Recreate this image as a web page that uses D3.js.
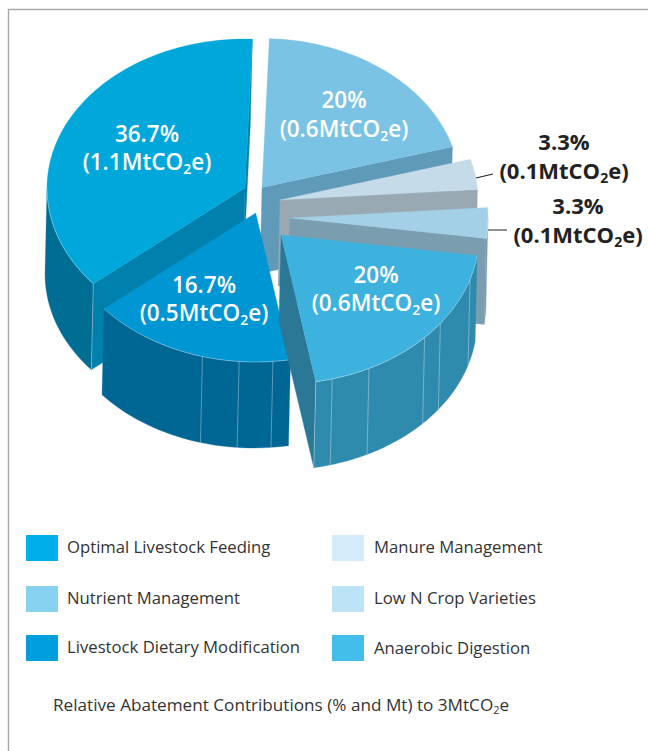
<!DOCTYPE html>
<html><head><meta charset="utf-8">
<script src="https://cdn.jsdelivr.net/npm/d3@7/dist/d3.min.js"></script>
<style>html,body{margin:0;padding:0;background:#fff}svg{display:block}</style>
</head><body><svg id="c" width="648" height="751"></svg>
<script>
// ---------- data ----------
const categories = ["Optimal Livestock Feeding","Nutrient Management","Manure Management","Low N Crop Varieties","Anaerobic Digestion","Livestock Dietary Modification"];
const shares = [36.7,20,3.3,3.3,20,16.7];
const shareLabels = ["36.7%","20%","3.3%","3.3%","20%","16.7%"];
const massLabels = ["(1.1MtCO","(0.6MtCO","(0.1MtCO","(0.1MtCO","(0.6MtCO","(0.5MtCO"];
const legendColors = ["#00aeea","#86d0f0","#d4ebf9","#bde3f7","#43bdea","#009ddf"];
const topColors = ["#00a7db","#7bc3e4","#c5dbe9","#a3d0e6","#3eb2de","#0095d3"];
const wallColors = ["#006d92","#5f9ab8","#98a9b3","#7a9eb0","#2f8bae","#006694"];
const faceColors = ["#0080ac","#5f9ab8","#98a9b3","#7a9eb0","#2a7896","#006694"];
// seams on outer walls, in degrees clockwise from 12 o'clock
const seams = [[],[],[],[],[165,153.6,133.5,126.4,107.3],[195.6,184.8,175]];
// ---------- layout ----------
const rx=198, ry=149, depthX=-2, depthY=86;
const centers=[[245,188],[262,187.5],[280,200],[290,218],[281,235],[255.7,213]];
const drawOrder=[0,1,2,3,5,4];
const labelPos=[[147,142,170],[344,108,137],[564,150,179],[578,214,243],[376,283,311],[204,293,321]];
const labelFill=["#fff","#fff","#222","#222","#fff","#fff"];
const legendPos=[[26,535],[26,586],[332,535],[332,586],[332,635],[26,635]];

const svg=d3.select("#c");
const font='"Open Sans"';
// frame
svg.append("path").attr("d","M648 9.5H8.5V751").attr("fill","none").attr("stroke","#a8a8a8").attr("stroke-width",1.4);

const sx=d3.scaleLinear().domain([-1,1]).range([-rx,rx]);
const sy=d3.scaleLinear().domain([-1,1]).range([-ry,ry]);
const arcs=d3.pie().sort(null).value(d=>d).startAngle(230*Math.PI/180).endAngle(590*Math.PI/180)(shares);
const rad=d=>d*Math.PI/180, deg=r=>r*180/Math.PI;
const line=d3.line();
function pt(i,a,low){const c=centers[i];const r=rad(a);
  return [c[0]+sx(Math.sin(r))+(low?depthX:0), c[1]+sy(-Math.cos(r))+(low?depthY:0)];}
function sweep(a0,a1){const n=Math.max(2,Math.ceil(Math.abs(a1-a0)/2));return d3.range(n+1).map(k=>a0+(a1-a0)*k/n);}
function apex(i,low){const c=centers[i];return [c[0]+(low?depthX:0),c[1]+(low?depthY:0)];}

drawOrder.forEach(i=>{
  let a0=deg(arcs[i].startAngle),a1=deg(arcs[i].endAngle);
  if(a0>=360){a0-=360;a1-=360;}
  const g=svg.append("g");
  const poly=(pts,fill)=>g.append("path").attr("d",line(pts)+"Z").attr("fill",fill).attr("stroke",fill).attr("stroke-width",.3);
  // cut faces
  if(Math.sin(rad(a0))<0) poly([apex(i),pt(i,a0),pt(i,a0,true),apex(i,true)],faceColors[i]);
  if(Math.sin(rad(a1))>0) poly([apex(i),pt(i,a1),pt(i,a1,true),apex(i,true)],faceColors[i]);
  // outer wall
  const w0=Math.max(a0,90),w1=Math.min(a1,270);
  if(w1>w0){
    const s=sweep(w0,w1);
    poly(s.map(a=>pt(i,a)).concat(s.slice().reverse().map(a=>pt(i,a,true))),wallColors[i]);
    seams[i].forEach(a=>g.append("path").attr("d",line([pt(i,a),pt(i,a,true)])).attr("stroke","#fff").attr("stroke-opacity",.38).attr("stroke-width",.9).attr("fill","none"));
    if(i===4||i===0){const e=i===0?w0:w1;g.append("path").attr("d",line([pt(i,e),pt(i,e,true)])).attr("stroke","#fff").attr("stroke-opacity",.4).attr("stroke-width",.9);}
  }
  // top
  const t=sweep(a0,a1).map(a=>pt(i,a));
  poly([apex(i)].concat(t),topColors[i]);
  if(w1>w0){g.append("path").attr("d",line(sweep(w0,w1).map(a=>pt(i,a)))).attr("fill","none").attr("stroke","#fff").attr("stroke-opacity",.4).attr("stroke-width",.8);}
});

// leader lines
svg.append("path").attr("d","M476 178L493 174M488 230L507 230").attr("stroke","#222").attr("stroke-width",1.2).attr("fill","none");

// slice labels
categories.forEach((c,i)=>{
  const p=labelPos[i];
  const g=svg.append("g").attr("font-family",font).attr("font-weight",i==2||i==3?700:600).attr("font-size",i==2||i==3?22:22.5).attr("fill",labelFill[i]).attr("text-anchor","middle");
  g.append("text").attr("x",p[0]).attr("y",p[1]).text(shareLabels[i]);
  const t=g.append("text").attr("x",p[0]).attr("y",p[2]);
  t.append("tspan").text(massLabels[i]);
  t.append("tspan").attr("font-size",14).attr("dy",4).text("2");
  t.append("tspan").attr("dy",-4).text("e)");
});

// legend
categories.forEach((c,i)=>{
  const p=legendPos[i];
  svg.append("rect").attr("x",p[0]).attr("y",p[1]).attr("width",32).attr("height",26).attr("fill",legendColors[i]);
  svg.append("text").attr("x",p[0]+(p[0]>100?42:41)).attr("y",p[1]+18+(i==4?1:0)).attr("font-family",font).attr("font-size",16.7).attr("fill","#333").text(c);
});
const cap=svg.append("text").attr("x",53).attr("y",711).attr("font-family",font).attr("font-size",17.15).attr("fill","#333");
cap.append("tspan").text("Relative Abatement Contributions (% and Mt) to 3MtCO");
cap.append("tspan").attr("font-size",11).attr("dy",3).text("2");
cap.append("tspan").attr("dy",-3).text("e");
</script></body></html>
